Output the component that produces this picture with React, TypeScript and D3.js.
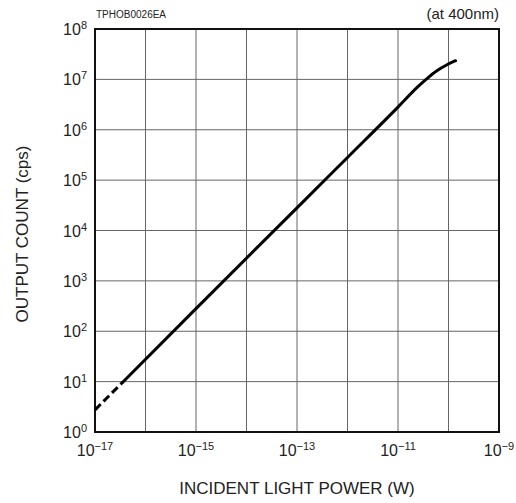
import React, { useEffect, useRef } from 'react';
import * as d3 from 'd3';

// log10 of incident light power (W) and output count (cps)
const dashedPower = [-17, -16.72, -16.45];
const dashedCount = [0.44, 0.72, 0.99];
const solidPower = [-16.45, -15, -13, -12, -11, -10.6, -10.42, -10.23, -10.03, -9.86];
const solidCount = [0.99, 2.45, 4.45, 5.45, 6.45, 6.86, 7.02, 7.17, 7.29, 7.37];

const xTickExps = [-17, -15, -13, -11, -9];
const yTickExps = [0, 1, 2, 3, 4, 5, 6, 7, 8];
const xGridExps = [-17, -16, -15, -14, -13, -12, -11, -10, -9];

const x_label = "INCIDENT LIGHT POWER (W)";
const y_label = "OUTPUT COUNT (cps)";
const code_label = "TPHOB0026EA";
const note_label = "(at 400nm)";

const W = 516;
const H = 503;
const margin = { top: 29, right: 17, bottom: 71, left: 95 };

const App: React.FC = () => {
    const svgRef = useRef<SVGSVGElement | null>(null);

    useEffect(() => {
        if (!svgRef.current) return;
        const svg = d3.select(svgRef.current);
        svg.selectAll("*").remove();

        const x = d3.scaleLog().domain([1e-17, 1e-9]).range([margin.left, W - margin.right]);
        const y = d3.scaleLog().domain([1, 1e8]).range([H - margin.bottom, margin.top]);
        const font = "'Liberation Sans', Arial, sans-serif";

        // grid
        svg.append("g").selectAll("line.v")
            .data(xGridExps)
            .join("line")
            .attr("x1", d => x(Math.pow(10, d))).attr("x2", d => x(Math.pow(10, d)))
            .attr("y1", margin.top).attr("y2", H - margin.bottom)
            .attr("stroke", "#666").attr("stroke-width", 1);
        svg.append("g").selectAll("line.h")
            .data(yTickExps)
            .join("line")
            .attr("y1", d => y(Math.pow(10, d))).attr("y2", d => y(Math.pow(10, d)))
            .attr("x1", margin.left).attr("x2", W - margin.right)
            .attr("stroke", "#666").attr("stroke-width", 1);

        // frame
        svg.append("rect")
            .attr("x", margin.left).attr("y", margin.top)
            .attr("width", W - margin.left - margin.right)
            .attr("height", H - margin.top - margin.bottom)
            .attr("fill", "none").attr("stroke", "#111").attr("stroke-width", 2);

        // curve
        const line = d3.line<[number, number]>()
            .x(d => x(Math.pow(10, d[0])))
            .y(d => y(Math.pow(10, d[1])))
            .curve(d3.curveMonotoneX);

        svg.append("path")
            .datum(dashedPower.map((p, i) => [p, dashedCount[i]] as [number, number]))
            .attr("d", line)
            .attr("fill", "none").attr("stroke", "#000").attr("stroke-width", 3)
            .attr("stroke-dasharray", "8,4");
        svg.append("path")
            .datum(solidPower.map((p, i) => [p, solidCount[i]] as [number, number]))
            .attr("d", line)
            .attr("fill", "none").attr("stroke", "#000").attr("stroke-width", 3)
            .attr("stroke-linecap", "round");

        // y tick labels
        const yt = svg.append("g").selectAll("text")
            .data(yTickExps)
            .join("text")
            .attr("x", margin.left - 8)
            .attr("y", d => y(Math.pow(10, d)) + 6)
            .attr("text-anchor", "end")
            .style("font-family", font).style("font-size", "16px").attr("fill", "#222");
        yt.append("tspan").text("10");
        yt.append("tspan").attr("dy", -6).style("font-size", "11px").text(d => String(d));

        // x tick labels
        const xt = svg.append("g").selectAll("text")
            .data(xTickExps)
            .join("text")
            .attr("x", d => x(Math.pow(10, d)))
            .attr("y", H - margin.bottom + 24)
            .attr("text-anchor", "middle")
            .style("font-family", font).style("font-size", "16px").attr("fill", "#222");
        xt.append("tspan").text("10");
        xt.append("tspan").attr("dy", -6).style("font-size", "11px").text(d => "\u2212" + Math.abs(d));

        // axis titles
        svg.append("text")
            .attr("x", 297)
            .attr("y", 494)
            .attr("text-anchor", "middle")
            .style("font-family", font).style("font-size", "17px").attr("fill", "#222")
            .text(x_label);
        svg.append("text")
            .attr("transform", `translate(28, 234) rotate(-90)`)
            .attr("text-anchor", "middle")
            .style("font-family", font).style("font-size", "17px").attr("fill", "#222")
            .text(y_label);

        svg.append("text")
            .attr("x", margin.left + 1).attr("y", 18)
            .style("font-family", font).style("font-size", "10px").attr("fill", "#222")
            .text(code_label);
        svg.append("text")
            .attr("x", W - margin.right).attr("y", 19)
            .attr("text-anchor", "end")
            .style("font-family", font).style("font-size", "15px").attr("fill", "#222")
            .text(note_label);
    }, []);

    return (
        <svg ref={svgRef} width={W} height={H}
            style={{ position: 'absolute', left: 0, top: 0, background: '#fff' }} />
    );
};

export default App;
